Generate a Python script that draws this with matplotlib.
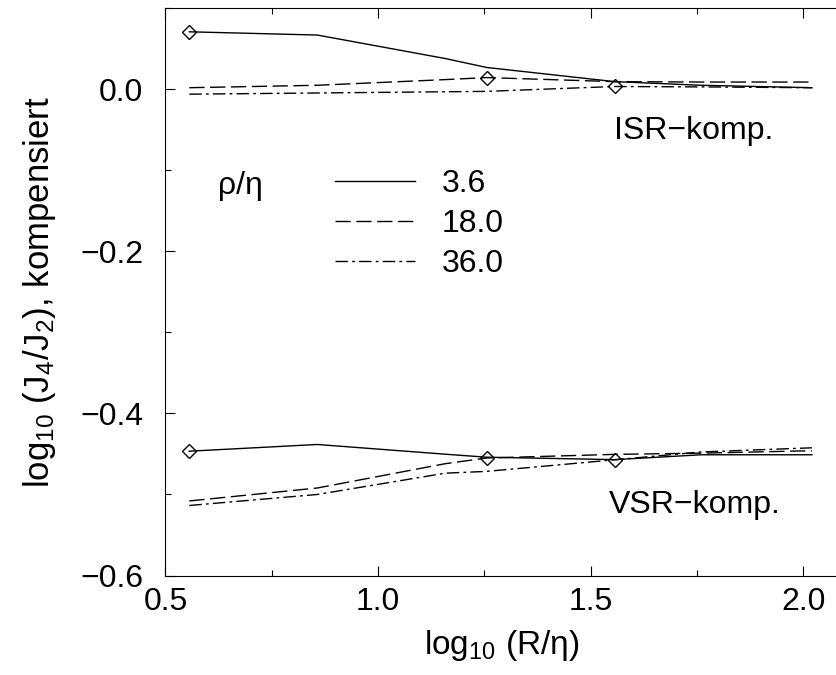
"""Compensated ratio log10(J4/J2) vs. log10(R/eta) for three rho/eta values."""

import matplotlib
matplotlib.use("Agg")
import matplotlib.pyplot as plt
from matplotlib.ticker import MultipleLocator

plt.rcParams["font.family"] = ["Liberation Sans", "DejaVu Sans"]
plt.rcParams["mathtext.default"] = "regular"

# data
log_r = [0.556, 0.857, 1.158, 1.255, 1.556, 1.760, 2.020]
rho = ["3.6", "18.0", "36.0"]
marker_idx = [0, 3, 4]          # point where R = rho

isr = [
    [0.071, 0.067, 0.038, 0.027, 0.0095, 0.005, 0.002],
    [0.002, 0.005, 0.012, 0.0145, 0.0095, 0.009, 0.009],
    [-0.006, -0.0045, -0.003, -0.0025, 0.0035, 0.003, 0.002],
]
vsr = [
    [-0.4466, -0.4383, -0.4503, -0.454, -0.457, -0.451, -0.451],
    [-0.508, -0.492, -0.462, -0.455, -0.4505, -0.449, -0.446],
    [-0.5136, -0.500, -0.4737, -0.4715, -0.4572, -0.4475, -0.4424],
]

styles = ["-", (0, (11, 4)), (0, (9, 3, 2, 3))]

fig = plt.figure(figsize=(8.37, 6.75), dpi=100)
ax = fig.add_axes([0.1977, 0.1474, 0.8023, 0.8403])

handles = []
for ys_i, ys_v, ls, mi in zip(isr, vsr, styles, marker_idx):
    for ys in (ys_i, ys_v):
        ax.plot(log_r, ys, color="k", lw=1.0, ls=ls, marker="D", ms=7,
                mfc="none", mec="k", mew=1.0, markevery=[mi])
    h, = ax.plot([], [], color="k", lw=1.0, ls=ls)
    handles.append(h)

ax.set_xlim(0.5, 2.079)
ax.set_ylim(-0.6, 0.1)
ax.xaxis.set_major_locator(MultipleLocator(0.5))
ax.xaxis.set_minor_locator(MultipleLocator(0.25))
ax.yaxis.set_major_locator(MultipleLocator(0.2))
ax.yaxis.set_minor_locator(MultipleLocator(0.1))
ax.xaxis.set_major_formatter(plt.FormatStrFormatter("%.1f"))
ax.yaxis.set_major_formatter(plt.FuncFormatter(
    lambda v, p: f"{v:.1f}".replace("-", "\u2212") if abs(v) > 1e-9 else "0.0"))

ax.tick_params(which="both", direction="in", top=True, right=False,
               labelsize=23, width=0.8)
ax.tick_params(axis="x", which="major", length=7, pad=8.5)
ax.tick_params(axis="y", which="major", length=7, pad=16)
ax.tick_params(which="minor", length=4)
ax.spines["right"].set_visible(False)
for s in ["left", "top", "bottom"]:
    ax.spines[s].set_linewidth(0.8)

ax.set_xlabel("log$_{10}$ (R/\u03b7)", fontsize=24, labelpad=8)
ax.set_ylabel("log$_{10}$ (J$_4$/J$_2$), kompensiert", fontsize=25,
              labelpad=16)

ax.text(1.555, -0.051, "ISR\u2212komp.", fontsize=23, va="center")
ax.text(1.543, -0.5136, "VSR\u2212komp.", fontsize=23, va="center")
ax.text(0.623, -0.119, "\u03c1/\u03b7", fontsize=23, va="center")

ax.legend(handles, rho, frameon=False, fontsize=23, handlelength=2.5,
          handletextpad=0.85, labelspacing=0.32, borderpad=0,
          borderaxespad=0, loc="upper left", bbox_to_anchor=(0.2524, 0.717))

fig.savefig("out.png", dpi=100)
